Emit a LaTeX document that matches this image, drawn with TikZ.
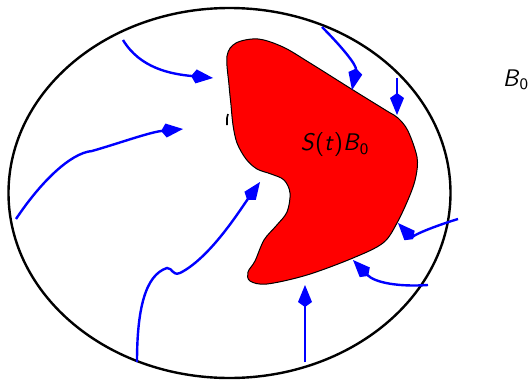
\documentclass[tikz,border=0pt]{standalone}
\usetikzlibrary{arrows.meta}

\tikzset{
  flow/.style={line width=1.2pt, blue, -{Kite[length=11pt, width=7pt, inset=2.5pt]}},
  lbl/.style={font=\sffamily\fontsize{12}{14}\selectfont}
}

\begin{document}
\begin{tikzpicture}[x=0.5pt, y=-0.5pt]
  \useasboundingbox (0,0) rectangle (530,380);

  % domain B_0
  \draw[line width=1.2pt] (229.5,193) ellipse (221 and 185);

  % S(t)B_0
  \filldraw[line width=0.5pt, fill=red] plot[smooth cycle, tension=0.55] coordinates {
    (227,56) (236,43) (258,39) (283,47) (310,63) (353,90) (387,111) (398,118)
    (408,131) (417,157) (416,176) (410,195) (397,223) (383,243) (353,258)
    (307,275) (267,284) (250,281) (248,272) (255,261) (264,240) (276,226)
    (287,212) (290,193) (284,180) (271,174) (257,169) (246,159) (237,143)
    (233,125) (231,105) (229,85)};
  \draw[line width=0.8pt] (228,114) -- (227,118) -- (227,125);

  % flow lines
  \draw[flow] (123,40) .. controls (140,68) and (170,74) .. (213,78);
  \draw[flow] (16,219) .. controls (40,183) and (70,153) .. (92,151)
    .. controls (120,143) and (150,132) .. (183,129);
  \draw[flow] (137,362) .. controls (137,310) and (145,275) .. (167,268)
    .. controls (173,268) and (172,276) .. (180,273)
    .. controls (210,258) and (240,210) .. (260,182);
  \draw[flow] (322,27) .. controls (340,45) and (357,65) .. (352,90);
  \draw[flow] (397,78) -- (397,115);
  \draw[flow] (458,219) .. controls (435,226) and (410,236) .. (398,223);
  \draw[flow] (428,285) .. controls (400,287) and (375,283) .. (353,260);
  \draw[flow] (305,362) -- (305,285);

  \node[lbl] (st) at (335,145) {\textit{S}(\textit{t})\textit{B}\textsubscript{0}};
  \node[lbl] (bzero) at (516,80) {\textit{B}\textsubscript{0}};
\end{tikzpicture}
\end{document}
